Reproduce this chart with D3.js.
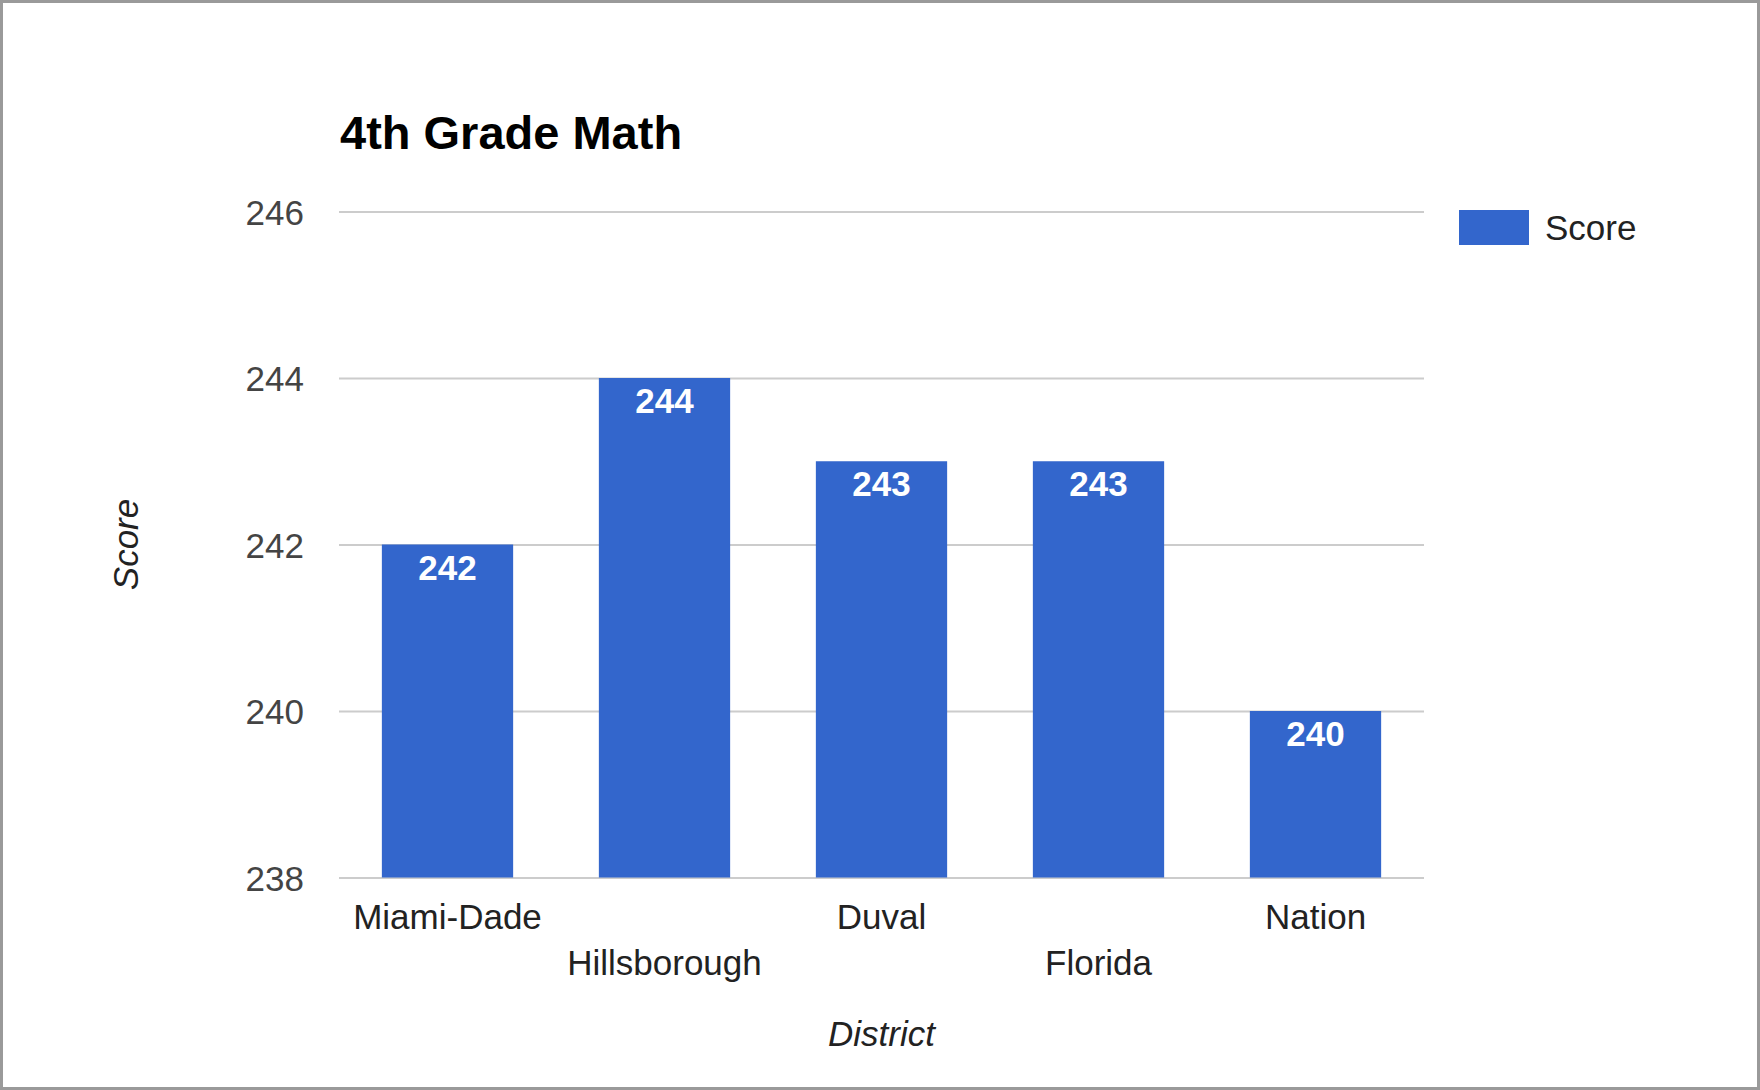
<!DOCTYPE html>
<html>
<head>
<meta charset="utf-8">
<script src="https://cdn.jsdelivr.net/npm/d3@7"></script>
<style>
  html, body { margin: 0; padding: 0; background: #fff; }
  svg { display: block; font-family: "Liberation Sans", Arial, sans-serif; }
</style>
</head>
<body>
<svg id="chart" width="1760" height="1090"></svg>
<script>
const categories = ["Miami-Dade", "Hillsborough", "Duval", "Florida", "Nation"];
const scores = [242, 244, 243, 243, 240];
const yTicks = [238, 240, 242, 244, 246];
const title = "4th Grade Math";
const seriesName = "Score";
const xTitle = "District";
const yTitle = "Score";

const svg = d3.select("#chart");
const W = 1760, H = 1090;
const plot = { left: 339, right: 1424, top: 211.5, bottom: 877.5 };
const barColor = "#3366cc";

// outer frame
svg.append("rect")
  .attr("x", 1.5).attr("y", 1.5)
  .attr("width", W - 3).attr("height", H - 3)
  .attr("fill", "#fff").attr("stroke", "#9a9a9a").attr("stroke-width", 3);

const x = d3.scaleBand()
  .domain(categories)
  .range([plot.left, plot.right])
  .paddingInner(0.395)
  .paddingOuter(0.1975);

const y = d3.scaleLinear()
  .domain([d3.min(yTicks), d3.max(yTicks)])
  .range([plot.bottom, plot.top]);

// y axis with gridlines
const yAxis = svg.append("g")
  .attr("transform", `translate(${plot.left},0)`)
  .call(d3.axisLeft(y).tickValues(yTicks).tickSize(-(plot.right - plot.left)).tickPadding(35).tickFormat(d3.format("d")));
yAxis.select(".domain").remove();
yAxis.selectAll(".tick line").attr("stroke", "#cccccc").attr("stroke-width", 2);
yAxis.selectAll(".tick text")
  .attr("font-size", 35)
  .attr("fill", "#444444")
  .attr("dy", "0.36em")
  .style("font-family", "'Liberation Sans', Arial, sans-serif");

// bars
svg.append("g").selectAll("rect")
  .data(categories)
  .join("rect")
  .attr("x", d => x(d))
  .attr("width", x.bandwidth())
  .attr("y", (d, i) => y(scores[i]))
  .attr("height", (d, i) => y(d3.min(yTicks)) - y(scores[i]))
  .attr("fill", barColor);

// value labels inside bars
svg.append("g").selectAll("text")
  .data(categories)
  .join("text")
  .attr("x", d => x(d) + x.bandwidth() / 2)
  .attr("y", (d, i) => y(scores[i]) + 35)
  .attr("text-anchor", "middle")
  .attr("font-size", 35)
  .attr("font-weight", "bold")
  .attr("fill", "#ffffff")
  .text((d, i) => scores[i]);

// x axis (staggered labels)
const xAxis = svg.append("g")
  .attr("transform", `translate(0,${plot.bottom})`)
  .call(d3.axisBottom(x).tickSize(0));
xAxis.select(".domain").remove();
xAxis.selectAll(".tick text")
  .attr("font-size", 35)
  .attr("fill", "#222222")
  .attr("dy", 0)
  .attr("y", (d, i) => i % 2 === 0 ? 51.5 : 97.5)
  .style("font-family", "'Liberation Sans', Arial, sans-serif");

// x axis title
svg.append("text")
  .attr("x", (plot.left + plot.right) / 2)
  .attr("y", 1046)
  .attr("text-anchor", "middle")
  .attr("font-size", 35)
  .attr("font-style", "italic")
  .attr("fill", "#222222")
  .text(xTitle);

// y axis title
svg.append("text")
  .attr("transform", `translate(138,${(plot.top + plot.bottom) / 2}) rotate(-90)`)
  .attr("text-anchor", "middle")
  .attr("font-size", 35)
  .attr("font-style", "italic")
  .attr("fill", "#222222")
  .text(yTitle);

// chart title
svg.append("text")
  .attr("x", 340)
  .attr("y", 149)
  .attr("font-size", 47)
  .attr("font-weight", "bold")
  .attr("fill", "#000000")
  .text(title);

// legend
const legend = svg.append("g");
legend.append("rect")
  .attr("x", 1459).attr("y", 210)
  .attr("width", 70).attr("height", 35)
  .attr("fill", barColor);
legend.append("text")
  .attr("x", 1545).attr("y", 239.5)
  .attr("font-size", 35)
  .attr("fill", "#222222")
  .text(seriesName);
</script>
</body>
</html>
